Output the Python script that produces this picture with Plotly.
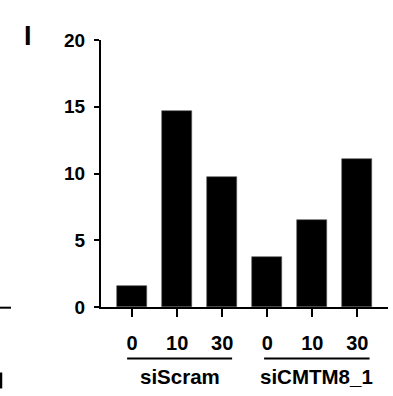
import plotly.graph_objects as go

# Time points (min) for each knockdown condition
time_labels = ["0", "10", "30", "0", "10", "30"]
groups = ["siScram", "siCMTM8_1"]
values = [1.59, 14.66, 9.71, 3.78, 6.52, 11.05]
y_ticks = [0, 5, 10, 15, 20]

W, H = 393, 396
L, R, T, B = 101, 5, 39.5, 88.7
plot_w = W - L - R
plot_h = H - T - B

FONT = "Arial, Liberation Sans, sans-serif"

def px_x(px):
    return (px - L) / plot_w

def px_y(py):
    return (H - B - py) / plot_h

positions = list(range(len(values)))

fig = go.Figure(
    go.Bar(
        x=positions,
        y=values,
        width=0.667,
        marker=dict(color="black", line=dict(color="#555555", width=0.6)),
        showlegend=False,
    )
)

fig.update_xaxes(
    range=[-0.69, 5.68],
    tickmode="array",
    tickvals=positions,
    ticktext=time_labels,
    ticks="outside",
    ticklen=8,
    tickwidth=2,
    tickcolor="black",
    showline=True,
    linecolor="black",
    linewidth=2,
    showgrid=False,
    zeroline=False,
    tickfont=dict(family=FONT, size=20, color="black", weight="bold"),
    ticklabelstandoff=9,
)
fig.update_yaxes(
    range=[0, 20],
    tickvals=y_ticks,
    ticks="outside",
    ticklen=5,
    tickwidth=2,
    tickcolor="black",
    showline=True,
    linecolor="black",
    linewidth=2,
    showgrid=False,
    zeroline=False,
    tickfont=dict(family=FONT, size=19, color="black", weight="bold"),
    ticklabelstandoff=5,
)

shapes = []
annotations = []
# group underlines and labels
group_spans = [(-0.11, 2.22), (2.93, 5.27)]
for name, (x0, x1) in zip(groups, group_spans):
    shapes.append(dict(type="line", xref="x", yref="paper", x0=x0, x1=x1,
                       y0=px_y(359), y1=px_y(359),
                       line=dict(color="black", width=2)))
    annotations.append(dict(text=name, xref="x", yref="paper", x=(x0 + x1) / 2,
                            y=px_y(377), showarrow=False, xanchor="center",
                            yanchor="middle",
                            font=dict(family=FONT, size=20.5, color="black", weight="bold")))

# panel letter
annotations.append(dict(text="I", xref="paper", yref="paper", x=px_x(27.5), y=px_y(35),
                        showarrow=False, xanchor="center", yanchor="middle",
                        font=dict(family=FONT, size=27, color="black", weight="bold")))

# edge of the neighbouring panel
shapes.append(dict(type="line", xref="paper", yref="paper", x0=px_x(0), x1=px_x(11),
                   y0=px_y(308), y1=px_y(308), line=dict(color="black", width=2)))
shapes.append(dict(type="line", xref="paper", yref="paper", x0=px_x(1), x1=px_x(1),
                   y0=px_y(373), y1=px_y(389), line=dict(color="black", width=2.5)))

fig.update_layout(
    width=W,
    height=H,
    margin=dict(l=L, r=R, t=T, b=B),
    plot_bgcolor="white",
    paper_bgcolor="white",
    shapes=shapes,
    annotations=annotations,
    bargap=0,
)

fig.write_html("out.html")
